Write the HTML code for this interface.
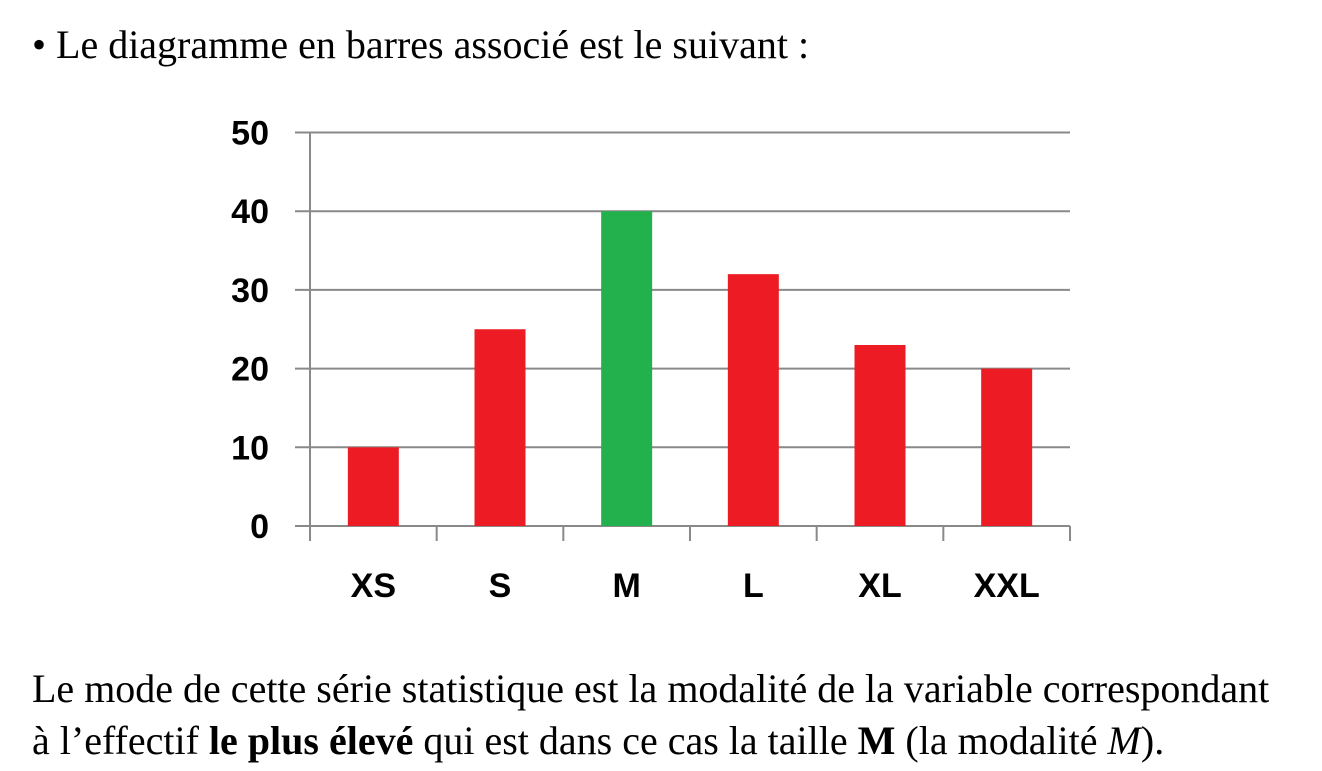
<!DOCTYPE html>
<html><head><meta charset="utf-8"><style>
body{margin:0;width:1322px;height:771px;background:#fff;position:relative;overflow:hidden;font-family:"Liberation Serif",serif;color:#000}
.t{position:absolute;left:32px;font-size:40px;white-space:nowrap;line-height:1}
</style></head><body>
<div class="t" style="top:25px">• Le diagramme en barres associé est le suivant :</div>
<svg id="c" width="1322" height="771" style="position:absolute;left:0;top:0"></svg>
<div class="t" style="top:669px">Le mode de cette série statistique est la modalité de la variable correspondant</div>
<div class="t" style="top:721px">à l’effectif <b>le plus élevé</b> qui est dans ce cas la taille <b>M</b> (la modalité <i>M</i>).</div>
<script>
const categories=["XS","S","M","L","XL","XXL"];
const values=[10,25,40,32,23,20];
const colors=["#ED1C24","#ED1C24","#22B14C","#ED1C24","#ED1C24","#ED1C24"];
const ticks=[0,10,20,30,40,50];
const svg=document.getElementById('c');
const NS="http://www.w3.org/2000/svg";
const x0=310,x1=1070,yb=526,yt=132.5,ymax=50;
const y=v=>yb-(v/ymax)*(yb-yt);
const band=(x1-x0)/categories.length;
function mk(t,a){const e=document.createElementNS(NS,t);for(const k in a)e.setAttribute(k,a[k]);svg.appendChild(e);return e;}
ticks.forEach(v=>{
 const l=mk('line',{x1:295,x2:x1,y1:y(v),y2:y(v),stroke:'#898989','stroke-width':2});
 
 
 const t=mk('text',{x:269,y:y(v)+12,'text-anchor':'end','font-family':'Liberation Sans, sans-serif','font-weight':'bold','font-size':34});
 t.textContent=v;
 
 
});
const ax=mk('line',{x1:x0,x2:x0,y1:yt,y2:541,stroke:'#898989','stroke-width':2});


for(let i=1;i<=categories.length;i++){
 const tk=mk('line',{x1:x0+i*band,x2:x0+i*band,y1:yb,y2:541,stroke:'#898989','stroke-width':2});
 
 
}
categories.forEach((c,i)=>{
 const cx=x0+band*(i+0.5),w=51;
 const r=mk('rect',{x:cx-w/2,y:y(values[i]),width:w,height:yb-y(values[i]),fill:colors[i]});
 
 
 const t=mk('text',{x:cx,y:597,'text-anchor':'middle','font-family':'Liberation Sans, sans-serif','font-weight':'bold','font-size':34});
 t.textContent=c;
 
 
});
</script>
</body></html>
